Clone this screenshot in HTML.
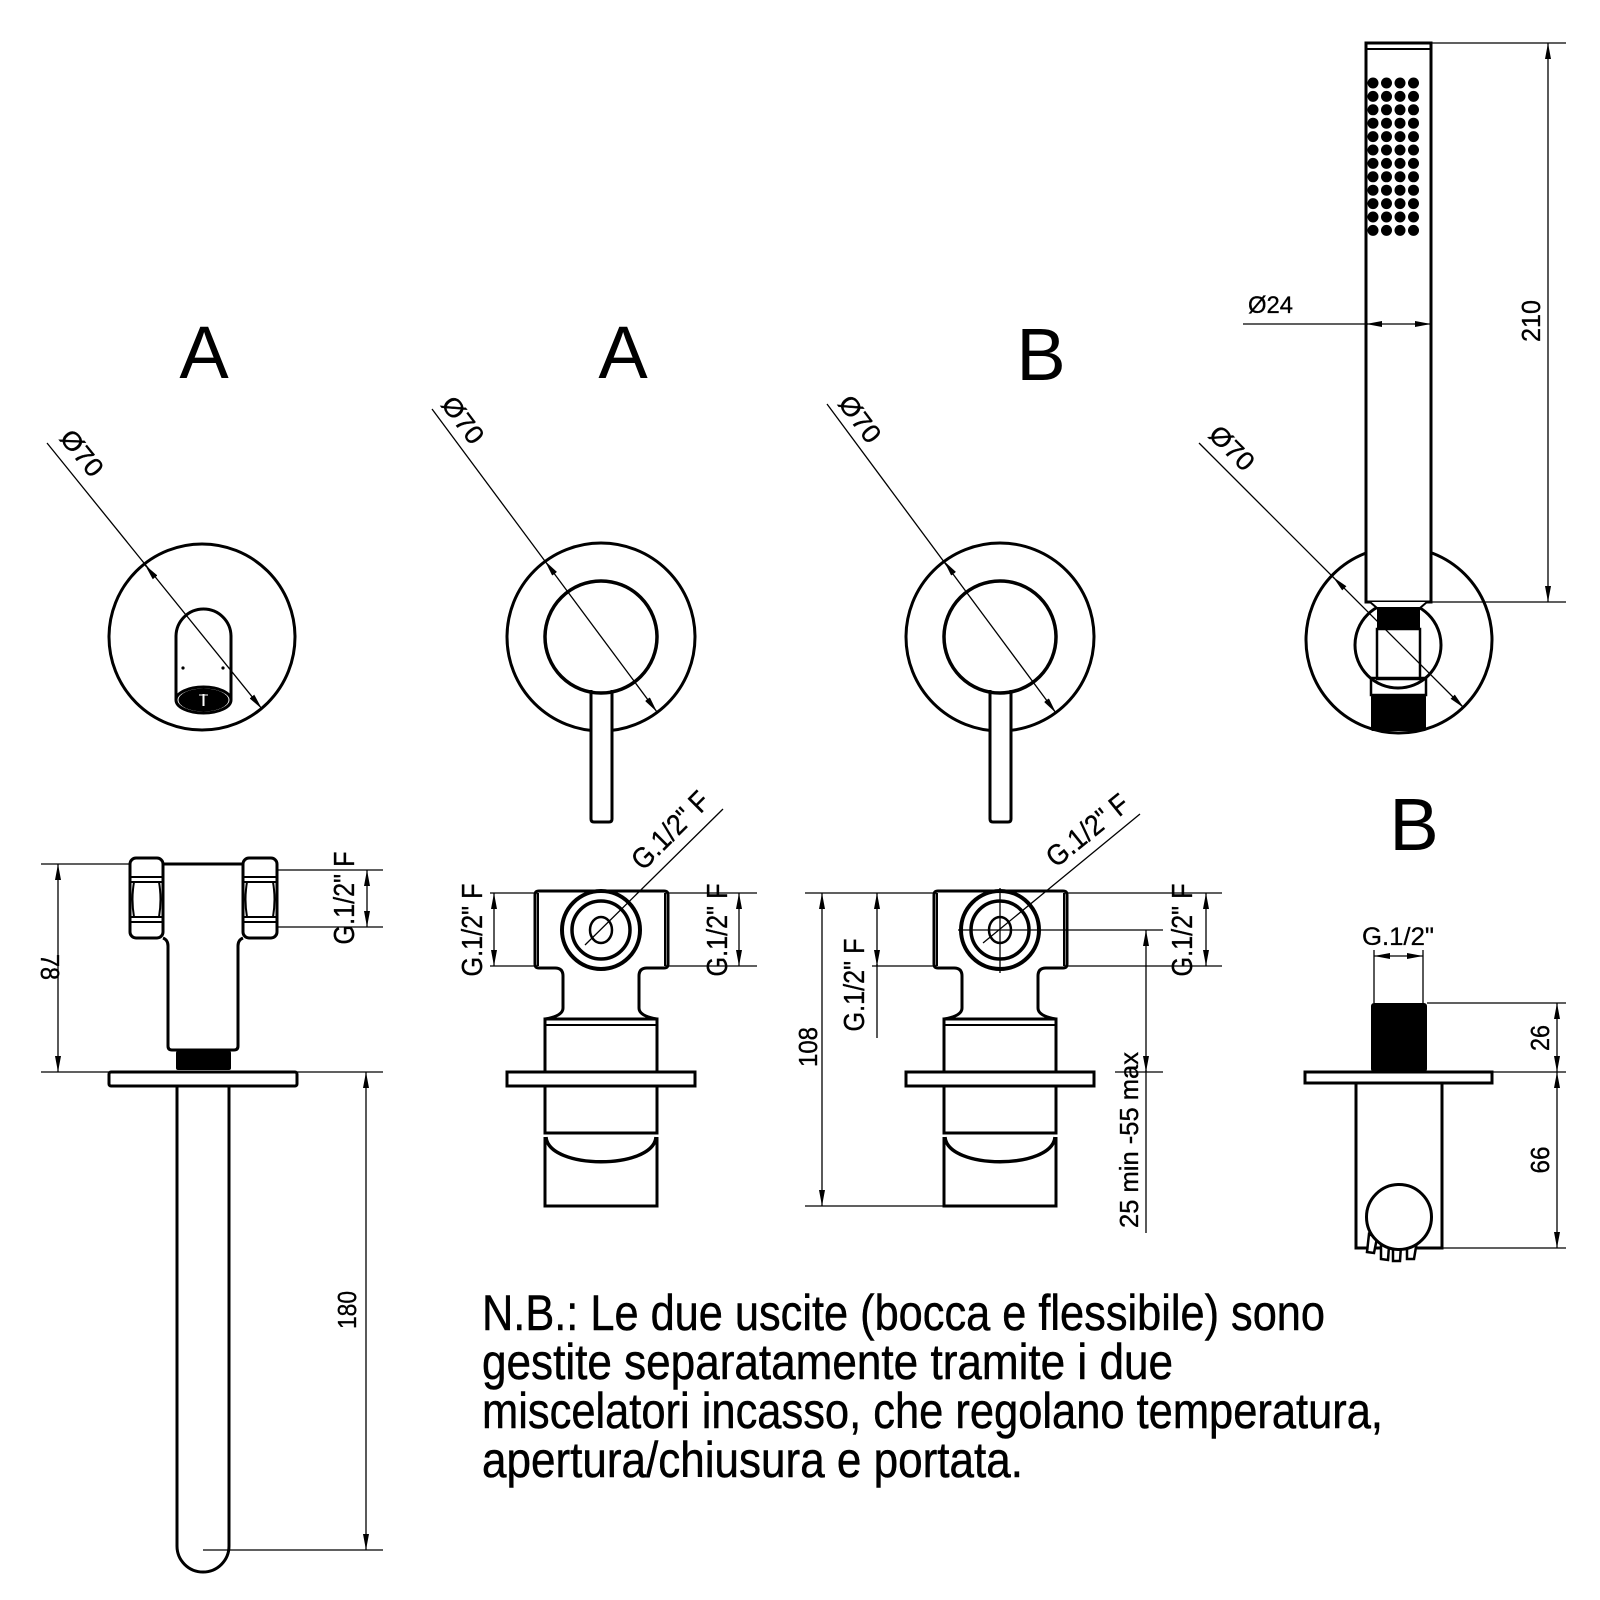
<!DOCTYPE html>
<html><head><meta charset="utf-8"><style>html,body{margin:0;padding:0;background:#fff}svg{display:block}</style></head>
<body>
<svg width="1600" height="1600" viewBox="0 0 1600 1600" xmlns="http://www.w3.org/2000/svg" font-family="'Liberation Sans', 'DejaVu Sans', sans-serif">
<defs>
<marker id="ar" viewBox="0 0 16 6" refX="16" refY="3" markerWidth="16" markerHeight="6" orient="auto-start-reverse" markerUnits="userSpaceOnUse"><path d="M0,0 L16,3 L0,6 z" fill="#000" stroke="none"/></marker>
</defs>
<rect width="1600" height="1600" fill="#fff"/>

<!-- ================= FRONT VIEW A1 (spout) ================= -->
<g stroke="#000" fill="none" stroke-width="3">
  <circle cx="202" cy="637" r="93"/>
  <path d="M176,700 L176,636.5 A27.5,27.5 0 0 1 231,636.5 L231,700"/>
  <ellipse cx="203.5" cy="700" rx="27.5" ry="13" fill="#fff"/>
</g>
<ellipse cx="203.5" cy="700" rx="25" ry="11.5" fill="#000"/>
<line x1="203.5" y1="694" x2="203.5" y2="706" stroke="#fff" stroke-width="2"/>
<line x1="199" y1="695" x2="208" y2="695" stroke="#fff" stroke-width="1"/>
<circle cx="183" cy="668" r="1.6" fill="#000"/>
<circle cx="223" cy="668" r="1.6" fill="#000"/>
<g stroke="#000" stroke-width="1.3" fill="none">
  <line x1="47" y1="443" x2="262" y2="709" marker-end="url(#ar)"/>
  <line x1="146.3" y1="566.6" x2="145" y2="565" marker-end="url(#ar)"/>
</g>

<!-- ================= FRONT VIEW A2 (mixer) ================= -->
<g stroke="#000" fill="none" stroke-width="3">
  <circle cx="601" cy="637" r="94"/>
  <path d="M591,690 L591,819 Q591,822 594,822 L609,822 Q612,822 612,819 L612,690" fill="#fff"/>
  <circle cx="601" cy="637" r="56" stroke-width="3.5"/>
</g>
<g stroke="#000" stroke-width="1.3" fill="none">
  <line x1="432" y1="409" x2="657" y2="712" marker-end="url(#ar)"/>
  <line x1="546.2" y1="562.6" x2="545" y2="561" marker-end="url(#ar)"/>
</g>

<!-- ================= FRONT VIEW B (mixer) ================= -->
<g stroke="#000" fill="none" stroke-width="3">
  <circle cx="1000" cy="637" r="94"/>
  <path d="M990,690 L990,819 Q990,822 993,822 L1008,822 Q1011,822 1011,819 L1011,690" fill="#fff"/>
  <circle cx="1000" cy="637" r="56" stroke-width="3.5"/>
</g>
<g stroke="#000" stroke-width="1.3" fill="none">
  <line x1="827" y1="404" x2="1056" y2="713" marker-end="url(#ar)"/>
  <line x1="945.2" y1="562.6" x2="944" y2="561" marker-end="url(#ar)"/>
</g>

<!-- ================= HAND SHOWER FRONT ================= -->
<g stroke="#000" fill="none" stroke-width="3">
  <circle cx="1399" cy="640" r="93"/>
  <rect x="1366" y="43" width="65" height="559" fill="#fff"/>
  <line x1="1366" y1="49" x2="1431" y2="49" stroke-width="2"/>
  <circle cx="1398" cy="645" r="43"/>
  <path d="M1370,602 L1377,608 L1420,608 L1427,602" stroke-width="2" fill="#fff"/>
  <rect x="1377" y="629" width="43" height="50" stroke-width="2.5"/>
  <rect x="1371" y="678" width="55" height="17" stroke-width="2.5"/>
</g>
<rect x="1377" y="608" width="43" height="21" fill="#000"/>
<rect x="1371" y="695" width="55" height="36" rx="2" fill="#000"/>
<g fill="#000">
  <g id="dotrow">
    <circle cx="1373" cy="83" r="5.5"/><circle cx="1386.5" cy="83" r="5.5"/><circle cx="1400" cy="83" r="5.5"/><circle cx="1413.5" cy="83" r="5.5"/>
  </g>
  <use href="#dotrow" y="13.4"/><use href="#dotrow" y="26.8"/><use href="#dotrow" y="40.2"/>
  <use href="#dotrow" y="53.6"/><use href="#dotrow" y="67"/><use href="#dotrow" y="80.4"/>
  <use href="#dotrow" y="93.8"/><use href="#dotrow" y="107.2"/><use href="#dotrow" y="120.6"/>
  <use href="#dotrow" y="134"/><use href="#dotrow" y="147.4"/>
</g>
<g stroke="#000" stroke-width="1.3" fill="none">
  <line x1="1199" y1="443" x2="1464" y2="708" marker-end="url(#ar)"/>
  <line x1="1334.4" y1="578.4" x2="1333" y2="577" marker-end="url(#ar)"/>
  <line x1="1431" y1="43" x2="1566" y2="43"/>
  <line x1="1431" y1="602" x2="1566" y2="602"/>
  <line x1="1548" y1="43" x2="1548" y2="602" marker-start="url(#ar)" marker-end="url(#ar)"/>
  <line x1="1243" y1="324" x2="1431" y2="324" marker-end="url(#ar)"/>
  <line x1="1368" y1="324" x2="1366" y2="324" marker-end="url(#ar)"/>
</g>

<!-- ================= SPOUT SIDE VIEW ================= -->
<g stroke="#000" stroke-width="1.3" fill="none">
  <line x1="41" y1="864" x2="130" y2="864"/>
  <line x1="41" y1="1072" x2="383" y2="1072"/>
  <line x1="58" y1="864" x2="58" y2="1072" marker-start="url(#ar)" marker-end="url(#ar)"/>
  <line x1="277" y1="870" x2="383" y2="870"/>
  <line x1="277" y1="927" x2="383" y2="927"/>
  <line x1="367" y1="870" x2="367" y2="927" marker-start="url(#ar)" marker-end="url(#ar)"/>
  <line x1="203" y1="1550" x2="383" y2="1550"/>
  <line x1="366" y1="1072" x2="366" y2="1550" marker-start="url(#ar)" marker-end="url(#ar)"/>
</g>
<g stroke="#000" fill="none" stroke-width="3">
  <line x1="163" y1="864" x2="243" y2="864"/>
  <path d="M163,938 Q168,940 168,946 L168,1046 Q168,1050 172,1050 L234,1050 Q238,1050 238,1046 L238,946 Q238,940 243,938"/>
  <rect x="130" y="858" width="33" height="80" rx="6" fill="#fff"/>
  <rect x="243" y="858" width="34" height="80" rx="6" fill="#fff"/>
  <g stroke-width="2">
    <line x1="131" y1="877" x2="162" y2="877"/><line x1="131" y1="882" x2="162" y2="882"/>
    <line x1="131" y1="917" x2="162" y2="917"/><line x1="131" y1="922" x2="162" y2="922"/>
    <line x1="244" y1="877" x2="276" y2="877"/><line x1="244" y1="882" x2="276" y2="882"/>
    <line x1="244" y1="917" x2="276" y2="917"/><line x1="244" y1="922" x2="276" y2="922"/>
    <path d="M134,882 Q131,899.5 134,917 M159,882 Q162,899.5 159,917"/>
    <path d="M247,882 Q244,899.5 247,917 M273,882 Q276,899.5 273,917"/>
  </g>
  <path d="M177,1086 L177,1546 A26,26 0 0 0 229,1546 L229,1086"/>
  <rect x="109" y="1072" width="188" height="14" rx="2" fill="#fff"/>
</g>
<rect x="176" y="1051" width="55" height="19" rx="2" fill="#000"/>

<!-- ================= MIXER A SIDE VIEW (cx=601) ================= -->
<g stroke="#000" fill="none" stroke-width="3">
  <rect x="545" y="1019" width="112" height="114"/>
  <line x1="545" y1="1025" x2="657" y2="1025" stroke-width="2"/>
  <path d="M539,891 L664,891 Q668,891 668,895 L668,964 Q668,968 664,968 L647,968 Q639,968 639,976 L639,1008 Q639,1016 657,1019 L545,1019 Q563,1016 563,1008 L563,976 Q563,968 555,968 L539,968 Q535,968 535,964 L535,895 Q535,891 539,891 Z" fill="#fff"/>
  <line x1="538" y1="893" x2="538" y2="966" stroke-width="2"/>
  <line x1="665" y1="893" x2="665" y2="966" stroke-width="2"/>
  <rect x="507" y="1072" width="188" height="14" fill="#fff"/>
  <path d="M545,1137 L545,1206 L657,1206 L657,1137"/>
  <path d="M546,1137 C549,1170 653,1170 656,1137" stroke-width="3.5"/>
  <circle cx="601" cy="930" r="39" stroke-width="4" fill="#fff"/>
  <circle cx="601" cy="930" r="29" stroke-width="3.5"/>
  <ellipse cx="601" cy="930" rx="11" ry="13" stroke-width="2.5"/>
</g>
<g stroke="#000" stroke-width="1.3" fill="none">
  <line x1="585" y1="945" x2="723" y2="809"/>
  <line x1="490" y1="893" x2="535" y2="893"/>
  <line x1="490" y1="966" x2="535" y2="966"/>
  <line x1="494" y1="893" x2="494" y2="966" marker-start="url(#ar)" marker-end="url(#ar)"/>
  <line x1="668" y1="893" x2="757" y2="893"/>
  <line x1="668" y1="966" x2="757" y2="966"/>
  <line x1="739" y1="893" x2="739" y2="966" marker-start="url(#ar)" marker-end="url(#ar)"/>
</g>

<!-- ================= MIXER B SIDE VIEW (cx=1000) ================= -->
<g stroke="#000" fill="none" stroke-width="3">
  <rect x="944" y="1019" width="112" height="114"/>
  <line x1="944" y1="1025" x2="1056" y2="1025" stroke-width="2"/>
  <path d="M938,891 L1063,891 Q1067,891 1067,895 L1067,964 Q1067,968 1063,968 L1046,968 Q1038,968 1038,976 L1038,1008 Q1038,1016 1056,1019 L944,1019 Q962,1016 962,1008 L962,976 Q962,968 954,968 L938,968 Q934,968 934,964 L934,895 Q934,891 938,891 Z" fill="#fff"/>
  <line x1="937" y1="893" x2="937" y2="966" stroke-width="2"/>
  <line x1="1064" y1="893" x2="1064" y2="966" stroke-width="2"/>
  <rect x="906" y="1072" width="188" height="14" fill="#fff"/>
  <path d="M944,1137 L944,1206 L1056,1206 L1056,1137"/>
  <path d="M945,1137 C948,1170 1052,1170 1055,1137" stroke-width="3.5"/>
  <circle cx="1000" cy="930" r="39" stroke-width="4" fill="#fff"/>
  <circle cx="1000" cy="930" r="29" stroke-width="3.5"/>
  <ellipse cx="1000" cy="930" rx="11" ry="13" stroke-width="2.5"/>
</g>
<g stroke="#000" stroke-width="1.3" fill="none">
  <line x1="983" y1="943" x2="1140" y2="814"/>
  <line x1="1000" y1="888" x2="1000" y2="973"/>
  <line x1="958" y1="930" x2="1163" y2="930"/>
  <line x1="805" y1="893" x2="936" y2="893"/>
  <line x1="872" y1="966" x2="936" y2="966"/>
  <line x1="877" y1="893" x2="877" y2="1038" marker-start="url(#ar)"/>
  <line x1="877" y1="964" x2="877" y2="966" marker-end="url(#ar)"/>
  <line x1="805" y1="1206" x2="944" y2="1206"/>
  <line x1="822" y1="893" x2="822" y2="1206" marker-start="url(#ar)" marker-end="url(#ar)"/>
  <line x1="1067" y1="893" x2="1222" y2="893"/>
  <line x1="1067" y1="966" x2="1222" y2="966"/>
  <line x1="1206" y1="893" x2="1206" y2="966" marker-start="url(#ar)" marker-end="url(#ar)"/>
  <line x1="1115" y1="1072" x2="1163" y2="1072"/>
  <line x1="1146" y1="930" x2="1146" y2="1233" marker-start="url(#ar)"/>
  <line x1="1146" y1="1070" x2="1146" y2="1072" marker-end="url(#ar)"/>
</g>

<!-- ================= WALL OUTLET B SIDE VIEW ================= -->
<g stroke="#000" stroke-width="1.3" fill="none">
  <line x1="1374" y1="950" x2="1374" y2="1003"/>
  <line x1="1423" y1="950" x2="1423" y2="1003"/>
  <line x1="1374" y1="956" x2="1423" y2="956" marker-start="url(#ar)" marker-end="url(#ar)"/>
  <line x1="1427" y1="1003" x2="1566" y2="1003"/>
  <line x1="1492" y1="1072" x2="1566" y2="1072"/>
  <line x1="1442" y1="1248" x2="1566" y2="1248"/>
  <line x1="1557" y1="1003" x2="1557" y2="1072" marker-start="url(#ar)" marker-end="url(#ar)"/>
  <line x1="1557" y1="1072" x2="1557" y2="1248" marker-start="url(#ar)" marker-end="url(#ar)"/>
</g>
<rect x="1371" y="1003" width="56" height="69" rx="3" fill="#000"/>
<g stroke="#000" fill="none" stroke-width="3">
  <rect x="1305" y="1072" width="187" height="11" fill="#fff"/>
  <path d="M1356,1083 L1356,1248 L1442,1248 L1442,1083"/>
  <g stroke-width="2.5" fill="#fff">
    <path d="M1369,1234 L1367,1252 L1374,1253 L1377,1238 Z"/>
    <path d="M1381,1244 L1381,1259 L1388,1260 L1389,1246 Z"/>
    <path d="M1393,1246 L1393,1261 L1400,1261 L1401,1246 Z"/>
    <path d="M1407,1244 L1407,1259 L1414,1259 L1417,1241 Z"/>
  </g>
  <circle cx="1399" cy="1217" r="32.5" fill="#fff"/>
</g>

<!-- ================= TEXT ================= -->
<g fill="#000" stroke="none">
  <text x="204" y="378" font-size="74" text-anchor="middle">A</text>
  <text x="623" y="378" font-size="74" text-anchor="middle">A</text>
  <text x="1041" y="380" font-size="74" text-anchor="middle">B</text>
  <text x="1414" y="850" font-size="74" text-anchor="middle">B</text>

  <g font-size="26" text-anchor="middle" dominant-baseline="central" stroke="#000" stroke-width="0.35">
    <text transform="translate(82,453) rotate(51)" textLength="52" lengthAdjust="spacingAndGlyphs">Ø70</text>
    <text transform="translate(463,420) rotate(53)" textLength="52" lengthAdjust="spacingAndGlyphs">Ø70</text>
    <text transform="translate(860,419) rotate(53)" textLength="52" lengthAdjust="spacingAndGlyphs">Ø70</text>
    <text transform="translate(1232,448) rotate(45)" textLength="52" lengthAdjust="spacingAndGlyphs">Ø70</text>

    <text transform="translate(1531,321) rotate(-90)" textLength="42" lengthAdjust="spacingAndGlyphs">210</text>
    <text transform="translate(347,1310) rotate(-90)" textLength="38" lengthAdjust="spacingAndGlyphs">180</text>
    <text transform="translate(50,967) rotate(90)" textLength="26" lengthAdjust="spacingAndGlyphs">78</text>
    <text transform="translate(808,1047) rotate(-90)" textLength="40" lengthAdjust="spacingAndGlyphs">108</text>
    <text transform="translate(1540,1038) rotate(-90)" textLength="26" lengthAdjust="spacingAndGlyphs">26</text>
    <text transform="translate(1540,1160) rotate(-90)" textLength="27" lengthAdjust="spacingAndGlyphs">66</text>
    <text transform="translate(1129,1140) rotate(-90)" textLength="176" lengthAdjust="spacingAndGlyphs">25 min -55 max</text>
  </g>

  <g font-size="29" text-anchor="middle" dominant-baseline="central" stroke="#000" stroke-width="0.35">
    <text transform="translate(345,898) rotate(-90)" textLength="93" lengthAdjust="spacingAndGlyphs">G.1/2" F</text>
    <text transform="translate(473,930) rotate(-90)" textLength="93" lengthAdjust="spacingAndGlyphs">G.1/2" F</text>
    <text transform="translate(718,930) rotate(-90)" textLength="93" lengthAdjust="spacingAndGlyphs">G.1/2" F</text>
    <text transform="translate(671,831) rotate(-45)" textLength="97" lengthAdjust="spacingAndGlyphs">G.1/2" F</text>
    <text transform="translate(1088,831) rotate(-39)" textLength="97" lengthAdjust="spacingAndGlyphs">G.1/2" F</text>
    <text transform="translate(855,985) rotate(-90)" textLength="93" lengthAdjust="spacingAndGlyphs">G.1/2" F</text>
    <text transform="translate(1183,930) rotate(-90)" textLength="93" lengthAdjust="spacingAndGlyphs">G.1/2" F</text>
  </g>

  <text x="1248" y="313" font-size="24" textLength="45" lengthAdjust="spacingAndGlyphs" stroke="#000" stroke-width="0.3">Ø24</text>
  <text x="1398" y="945" font-size="25" text-anchor="middle" textLength="72" lengthAdjust="spacingAndGlyphs" stroke="#000" stroke-width="0.3">G.1/2"</text>

  <g font-size="50" stroke="#000" stroke-width="0.5">
    <text x="482" y="1330" textLength="843" lengthAdjust="spacingAndGlyphs">N.B.: Le due uscite (bocca e flessibile) sono</text>
    <text x="482" y="1379" textLength="691" lengthAdjust="spacingAndGlyphs">gestite separatamente tramite i due</text>
    <text x="482" y="1428" textLength="901" lengthAdjust="spacingAndGlyphs">miscelatori incasso, che regolano temperatura,</text>
    <text x="482" y="1477" textLength="541" lengthAdjust="spacingAndGlyphs">apertura/chiusura e portata.</text>
  </g>
</g>
</svg>
</body></html>
